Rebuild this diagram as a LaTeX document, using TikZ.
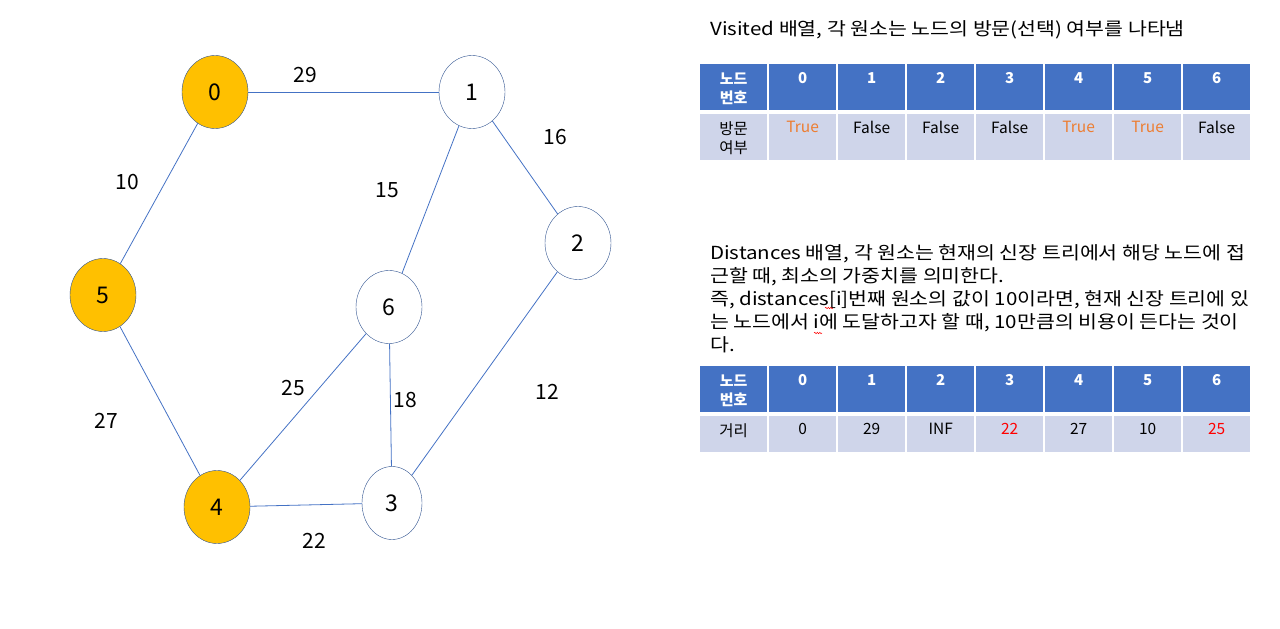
\documentclass[tikz,border=0pt]{standalone}
\usepackage{fontspec}
\setmainfont{Noto Sans CJK KR}
\newfontfamily\notefont[FakeStretch=1.14]{Noto Sans CJK KR}
\usepackage{xcolor}
\usetikzlibrary{shapes.geometric, decorations.pathmorphing}
\definecolor{gold}{HTML}{FFC000}
\definecolor{edgeblue}{HTML}{4472C4}
\definecolor{rimblue}{HTML}{2F528F}
\definecolor{hdrblue}{HTML}{4472C4}
\definecolor{cellgray}{HTML}{CFD5EA}
\definecolor{trueorange}{HTML}{ED7D31}

\begin{document}
\begin{tikzpicture}[x=1pt, y=-1pt,
	vtx/.style={ellipse, draw=rimblue, fill=white, minimum width=66pt, minimum height=73pt, inner sep=0pt, font=\fontsize{23}{23}\selectfont},
	wt/.style={font=\fontsize{21}{21}\selectfont},
	edge/.style={edgeblue, line width=0.8pt},
	hcell/.style={fill=hdrblue, anchor=north west, minimum width=67pt, inner sep=0pt},
	bcell/.style={fill=cellgray, anchor=north west, minimum width=67pt, inner sep=0pt},
	hlbl/.style={anchor=north, yshift=-5pt, text=white, align=center, font=\bfseries\fontsize{15}{19}\selectfont},
	blbl/.style={anchor=north, yshift=-4pt, align=center, font=\fontsize{15.5}{19}\selectfont},
	note/.style={anchor=north west, align=left, inner sep=0pt, font=\notefont\fontsize{18}{23.2}\selectfont},
	squig/.style={red, line width=0.5pt, decorate, decoration={snake, amplitude=0.7pt, segment length=2.5pt}}
]
	\useasboundingbox (0,0) rectangle (1280,629);
	% graph
	\node[vtx, fill=gold] (n0) at (215,92) {0};
	\node[vtx] (n1) at (472,92) {1};
	\node[vtx] (n2) at (578,243) {2};
	\node[vtx, fill=gold] (n5) at (103,295) {5};
	\node[vtx] (n6) at (389,307) {6};
	\node[vtx, fill=gold] (n4) at (217,507) {4};
	\node[vtx, minimum width=60pt] (n3) at (392,503) {3};
	\draw[edge] (n0) -- (n1);
	\draw[edge] (n1) -- (n2);
	\draw[edge] (n1) -- (n6);
	\draw[edge] (n0) -- (n5);
	\draw[edge] (n5) -- (n4);
	\draw[edge] (n4) -- (n6);
	\draw[edge] (n6) -- (n3);
	\draw[edge] (n4) -- (n3);
	\draw[edge] (n2) -- (n3);
	\node[wt] (w01) at (305,75) {29};
	\node[wt] (w12) at (555,137) {16};
	\node[wt] (w05) at (127,182) {10};
	\node[wt] (w16) at (387,190) {15};
	\node[wt] (w46) at (293,388) {25};
	\node[wt] (w63) at (405,400) {18};
	\node[wt] (w23) at (547,392) {12};
	\node[wt] (w54) at (106,421) {27};
	\node[wt] (w43) at (314,541) {22};
	% visited table
	\node[note] (vtitle) at (710,20) {Visited 배열, 각 원소는 노드의 방문(선택) 여부를 나타냄};
	\node[hcell, minimum height=46pt, label={[hlbl]north:노드\\번호}] (vh) at (700,64) {};
	\node[bcell, minimum height=46pt, label={[blbl]north:방문\\여부}] (vb) at (700,114) {};
	\foreach \val/\col [count=\k from 0] in {True/trueorange, False/black, False/black, False/black, True/trueorange, True/trueorange, False/black} {
		\node[hcell, minimum height=46pt, label={[hlbl]north:\k}] (vh\k) at (769+69*\k,64) {};
		\node[bcell, minimum height=46pt, label={[blbl, text=\col]north:\val}] (vb\k) at (769+69*\k,114) {};
	}
	% distances table
	\node[note] (dtext) at (710,244) {Distances 배열, 각 원소는 현재의 신장 트리에서 해당 노드에 접\\근할 때, 최소의 가중치를 의미한다.\\즉, distances[i]번째 원소의 값이 10이라면, 현재 신장 트리에 있\\는 노드에서 i에 도달하고자 할 때, 10만큼의 비용이 든다는 것이\\다.};
	\draw[squig] (825,308) -- (833,308);
	\draw[squig] (814,333) -- (822,333);
	\node[hcell, minimum height=46pt, label={[hlbl]north:노드\\번호}] (dh) at (700,366) {};
	\node[bcell, minimum height=36pt, label={[blbl]north:거리}] (db) at (700,416) {};
	\foreach \val/\col [count=\k from 0] in {0/black, 29/black, INF/black, 22/red, 27/black, 10/black, 25/red} {
		\node[hcell, minimum height=46pt, label={[hlbl]north:\k}] (dh\k) at (769+69*\k,366) {};
		\node[bcell, minimum height=36pt, label={[blbl, text=\col]north:\val}] (db\k) at (769+69*\k,416) {};
	}
\end{tikzpicture}
\end{document}
